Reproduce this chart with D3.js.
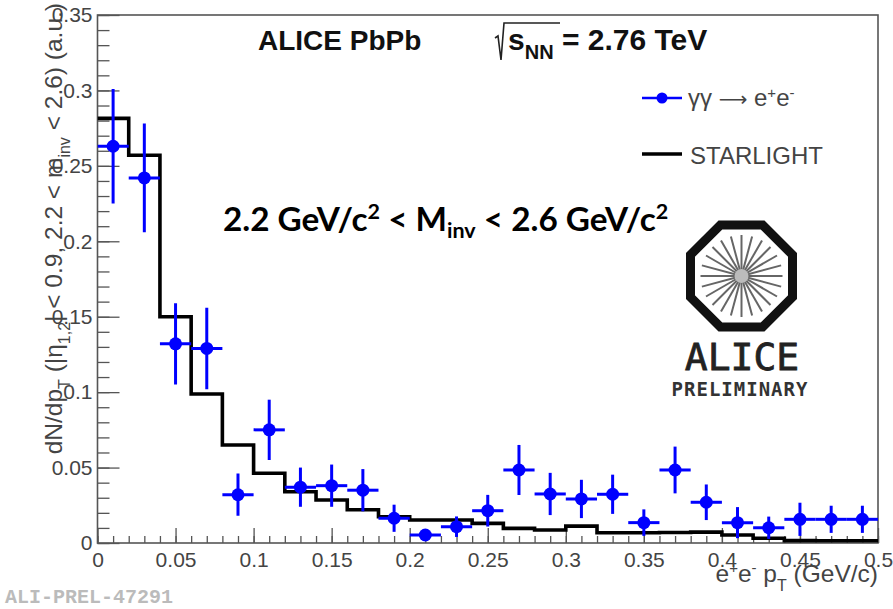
<!DOCTYPE html>
<html>
<head>
<meta charset="utf-8">
<script src="https://cdn.jsdelivr.net/npm/d3@7"></script>
<style>
  html, body { margin: 0; padding: 0; background: #fff; }
  svg { display: block; }
</style>
</head>
<body>
<svg id="chart" width="893" height="609"></svg>
<script>
// Pair pT spectrum of gamma-gamma -> e+e- in PbPb, 2.2 < Minv < 2.6 GeV/c^2
const ptEdges = [0, 0.02, 0.04, 0.06, 0.08, 0.10, 0.12, 0.14, 0.16, 0.18, 0.20, 0.22, 0.24,
                 0.26, 0.28, 0.30, 0.32, 0.34, 0.36, 0.38, 0.40, 0.42, 0.44, 0.46, 0.48, 0.50];
const ptCenters = [0.01, 0.03, 0.05, 0.07, 0.09, 0.11, 0.13, 0.15, 0.17, 0.19, 0.21, 0.23, 0.25,
                   0.27, 0.29, 0.31, 0.33, 0.35, 0.37, 0.39, 0.41, 0.43, 0.45, 0.47, 0.49];
const ptHalfWidth = 0.01;

// measured yield (a.u.) and statistical errors
const yieldData = [0.263, 0.242, 0.132, 0.129, 0.032, 0.075, 0.037, 0.038, 0.035, 0.0164,
                   0.0053, 0.0108, 0.0214, 0.0484, 0.0325, 0.0292, 0.0323, 0.0135, 0.0484,
                   0.027, 0.0135, 0.0101, 0.0157, 0.0157, 0.0157];
const yieldErr = [0.038, 0.036, 0.027, 0.027, 0.014, 0.020, 0.013, 0.014, 0.014, 0.009,
                  0.0035, 0.0068, 0.0105, 0.0166, 0.014, 0.0127, 0.013, 0.0088, 0.0155,
                  0.0118, 0.0103, 0.0074, 0.011, 0.009, 0.009];

// STARLIGHT prediction per bin
const starlight = [0.2815, 0.257, 0.150, 0.0988, 0.065, 0.0462, 0.034, 0.0285, 0.022, 0.0174,
                   0.0152, 0.0152, 0.013, 0.0097, 0.0086, 0.0112, 0.0068, 0.0068, 0.007,
                   0.0072, 0.0053, 0.0031, 0.0016, 0.0015, 0.0015];

const xMajorTicks = [0, 0.05, 0.1, 0.15, 0.2, 0.25, 0.3, 0.35, 0.4, 0.45, 0.5];
const xTickLabels = ["0", "0.05", "0.1", "0.15", "0.2", "0.25", "0.3", "0.35", "0.4", "0.45", "0.5"];
const yMajorTicks = [0, 0.05, 0.1, 0.15, 0.2, 0.25, 0.3, 0.35];
const yTickLabels = ["0", "0.05", "0.1", "0.15", "0.2", "0.25", "0.3", "0.35"];

const legendLabels = ["γγ → e⁺e⁻", "STARLIGHT"];

const margin = { left: 97.5, top: 15, right: 893 - 878, bottom: 609 - 543 };
const W = 893, H = 609;
const svg = d3.select("#chart");

const x = d3.scaleLinear().domain([0, 0.5]).range([margin.left, W - margin.right]);
const y = d3.scaleLinear().domain([0, 0.35]).range([H - margin.bottom, margin.top]);

const font = "'Liberation Sans', Arial, Helvetica, sans-serif";
const blue = "#0000ff";
const axisColor = "#555";
const labelColor = "#444";

svg.append("defs").append("clipPath").attr("id", "plotClip")
  .append("rect")
  .attr("x", x(0)).attr("y", y(0.35))
  .attr("width", x(0.5) - x(0)).attr("height", y(0) - y(0.35));

// ---- axes: minor and major ticks pointing inwards ----
const xMinor = d3.range(0, 51).map(i => i / 100);
const yMinor = d3.range(0, 36).map(i => i / 100);

svg.append("g")
  .attr("transform", `translate(0,${y(0)})`)
  .call(d3.axisBottom(x).tickValues(xMinor).tickSize(-7).tickFormat(""))
  .call(g => g.select(".domain").remove())
  .call(g => g.selectAll("line").attr("stroke", axisColor).attr("stroke-width", 1.3));

svg.append("g")
  .attr("transform", `translate(0,${y(0)})`)
  .call(d3.axisBottom(x).tickValues(xMajorTicks).tickSize(-15).tickPadding(9)
    .tickFormat((d, i) => xTickLabels[i]))
  .call(g => g.select(".domain").remove())
  .call(g => g.selectAll("line").attr("stroke", axisColor).attr("stroke-width", 1.3))
  .call(g => g.selectAll("text").attr("font-family", font).attr("font-size", 21)
    .attr("fill", labelColor));

svg.append("g")
  .attr("transform", `translate(${x(0)},0)`)
  .call(d3.axisLeft(y).tickValues(yMinor).tickSize(-12).tickFormat(""))
  .call(g => g.select(".domain").remove())
  .call(g => g.selectAll("line").attr("stroke", axisColor).attr("stroke-width", 1.3));

svg.append("g")
  .attr("transform", `translate(${x(0)},0)`)
  .call(d3.axisLeft(y).tickValues(yMajorTicks).tickSize(-22).tickPadding(6)
    .tickFormat((d, i) => yTickLabels[i]))
  .call(g => g.select(".domain").remove())
  .call(g => g.selectAll("line").attr("stroke", axisColor).attr("stroke-width", 1.3))
  .call(g => g.selectAll("text").attr("font-family", font).attr("font-size", 21)
    .attr("fill", labelColor).attr("x", -5));

// frame
svg.append("rect")
  .attr("x", x(0)).attr("y", y(0.35))
  .attr("width", x(0.5) - x(0)).attr("height", y(0) - y(0.35))
  .attr("fill", "none").attr("stroke", axisColor).attr("stroke-width", 1.6);

// ---- STARLIGHT step histogram ----
const stepPts = [];
starlight.forEach((v, i) => {
  stepPts.push([ptEdges[i], v]);
  stepPts.push([ptEdges[i + 1], v]);
});
svg.append("path")
  .datum(stepPts)
  .attr("clip-path", "url(#plotClip)")
  .attr("fill", "none")
  .attr("stroke", "#000")
  .attr("stroke-width", 3.6)
  .attr("stroke-linejoin", "miter")
  .attr("d", d3.line().x(d => x(d[0])).y(d => y(d[1])));

// ---- data points with error bars ----
const pts = svg.append("g").attr("clip-path", "url(#plotClip)");
const pointData = ptCenters.map((c, i) => ({ c, v: yieldData[i], e: yieldErr[i] }));

pts.selectAll("line.ex").data(pointData).join("line")
  .attr("class", "ex")
  .attr("x1", d => x(d.c - ptHalfWidth)).attr("x2", d => x(d.c + ptHalfWidth))
  .attr("y1", d => y(d.v)).attr("y2", d => y(d.v))
  .attr("stroke", blue).attr("stroke-width", 3);

pts.selectAll("line.ey").data(pointData).join("line")
  .attr("class", "ey")
  .attr("x1", d => x(d.c)).attr("x2", d => x(d.c))
  .attr("y1", d => y(d.v - d.e)).attr("y2", d => y(d.v + d.e))
  .attr("stroke", blue).attr("stroke-width", 3);

pts.selectAll("circle").data(pointData).join("circle")
  .attr("cx", d => x(d.c)).attr("cy", d => y(d.v)).attr("r", 6.5)
  .attr("fill", blue);

// ---- axis titles ----
const xTitle = svg.append("text")
  .attr("x", x(0.5)).attr("y", 582)
  .attr("text-anchor", "end")
  .attr("font-family", font).attr("font-size", 24.5).attr("fill", labelColor);
xTitle.append("tspan").text("e");
xTitle.append("tspan").attr("dy", -9).attr("font-size", 15).text("+");
xTitle.append("tspan").attr("dy", 9).text("e");
xTitle.append("tspan").attr("dy", -9).attr("font-size", 15).text("-");
xTitle.append("tspan").attr("dy", 9).text(" p");
xTitle.append("tspan").attr("dy", 9).attr("font-size", 16).text("T");
xTitle.append("tspan").attr("dy", -9).text(" (GeV/c)");

const yTitle = svg.append("text")
  .attr("transform", "translate(62,3) rotate(-90)")
  .attr("text-anchor", "end")
  .attr("font-family", font).attr("font-size", 24.5).attr("fill", labelColor);
yTitle.append("tspan").text("dN/dp");
yTitle.append("tspan").attr("dy", 8).attr("font-size", 16).text("T");
yTitle.append("tspan").attr("dy", -8).text(" (|η");
yTitle.append("tspan").attr("dy", 8).attr("font-size", 16).text("1,2");
yTitle.append("tspan").attr("dy", -8).text("| < 0.9, 2.2 < m");
yTitle.append("tspan").attr("dy", 8).attr("font-size", 16).text("inv");
yTitle.append("tspan").attr("dy", -8).text(" < 2.6) (a.u.)");

// ---- header: experiment and energy ----
svg.append("text")
  .attr("x", 258).attr("y", 50)
  .attr("font-family", font).attr("font-weight", "bold").attr("font-size", 28)
  .attr("fill", "#111").text("ALICE PbPb");

const energy = svg.append("text")
  .attr("x", 508).attr("y", 50)
  .attr("font-family", font).attr("font-weight", "bold").attr("font-size", 30)
  .attr("fill", "#111");
energy.append("tspan").text("s");
energy.append("tspan").attr("dy", 9).attr("font-size", 20).text("NN");
energy.append("tspan").attr("dy", -9).text(" = 2.76 TeV");
// radical sign over s_NN
svg.append("path")
  .attr("d", "M495,38 L498,36 L501,60 L504,23 L560,23")
  .attr("fill", "none").attr("stroke", "#222").attr("stroke-width", 1.6);

// ---- mass window annotation ----
const mass = svg.append("text")
  .attr("x", 223).attr("y", 231)
  .attr("font-family", "Lato, 'Open Sans', sans-serif").attr("font-weight", "bold")
  .attr("font-size", 33.3).attr("fill", "#000");
mass.append("tspan").text("2.2 GeV/c");
mass.append("tspan").attr("dy", -12).attr("font-size", 21.5).text("2");
mass.append("tspan").attr("dy", 12).text(" < M");
mass.append("tspan").attr("dy", 7).attr("font-size", 21.5).text("inv");
mass.append("tspan").attr("dy", -7).text(" < 2.6 GeV/c");
mass.append("tspan").attr("dy", -12).attr("font-size", 21.5).text("2");

// ---- legend ----
const leg = svg.append("g");
leg.append("line").attr("x1", 642).attr("x2", 682).attr("y1", 98).attr("y2", 98)
  .attr("stroke", blue).attr("stroke-width", 2.5);
leg.append("circle").attr("cx", 662).attr("cy", 98).attr("r", 5.5).attr("fill", blue);
const l1 = leg.append("text").attr("x", 688).attr("y", 106)
  .attr("font-family", font).attr("font-size", 24).attr("fill", labelColor);
l1.append("tspan").text("γγ ");
l1.append("tspan").attr("font-family", "'DejaVu Sans', sans-serif").attr("font-size", 20).text("⟶");
l1.append("tspan").text(" e");
l1.append("tspan").attr("dy", -8).attr("font-size", 15).text("+");
l1.append("tspan").attr("dy", 8).text("e");
l1.append("tspan").attr("dy", -8).attr("font-size", 15).text("-");

leg.append("line").attr("x1", 642).attr("x2", 682).attr("y1", 154).attr("y2", 154)
  .attr("stroke", "#000").attr("stroke-width", 3.6);
leg.append("text").attr("x", 690).attr("y", 164)
  .attr("font-family", font).attr("font-size", 24).attr("fill", labelColor)
  .text(legendLabels[1]);

// ---- ALICE Preliminary logo ----
const logo = svg.append("g").attr("transform", "translate(741.5,276)");
const R = 51 / Math.cos(Math.PI / 8);
const octo = d3.range(8).map(k => {
  const a = Math.PI / 8 + k * Math.PI / 4;
  return [R * Math.cos(a), R * Math.sin(a)];
});
logo.append("polygon")
  .attr("points", octo.map(p => p.join(",")).join(" "))
  .attr("fill", "#fff").attr("stroke", "#111").attr("stroke-width", 9)
  .attr("stroke-linejoin", "miter");
d3.range(24).forEach(k => {
  const a = k * Math.PI / 12;
  logo.append("line")
    .attr("x1", 0).attr("y1", 0)
    .attr("x2", 41 * Math.cos(a)).attr("y2", 41 * Math.sin(a))
    .attr("stroke", "#666").attr("stroke-width", 2);
});
logo.append("circle").attr("r", 7).attr("fill", "#bbb");

svg.append("text")
  .attr("x", 742).attr("y", 370).attr("text-anchor", "middle")
  .attr("font-family", "'DejaVu Sans Mono', monospace")
  .attr("font-size", 38).attr("fill", "#222")
  .attr("stroke", "#222").attr("stroke-width", 0.8).text("ALICE");
svg.append("text")
  .attr("x", 740).attr("y", 396).attr("text-anchor", "middle")
  .attr("font-family", "'DejaVu Sans Mono', monospace").attr("font-weight", "bold")
  .attr("font-size", 19).attr("letter-spacing", 1).attr("fill", "#333").text("PRELIMINARY");

// figure id
svg.append("text")
  .attr("x", 5).attr("y", 603)
  .attr("font-family", "'Liberation Mono', 'Courier New', monospace").attr("font-weight", "bold")
  .attr("font-size", 20).attr("fill", "#bbb").text("ALI-PREL-47291");
</script>
</body>
</html>
